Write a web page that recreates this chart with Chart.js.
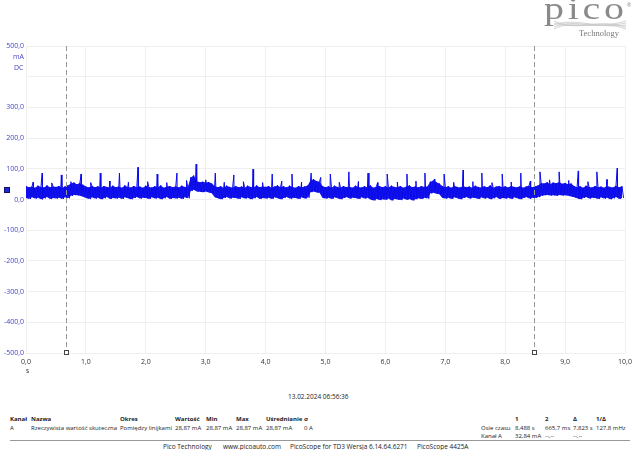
<!DOCTYPE html>
<html>
<head>
<meta charset="utf-8">
<script src="https://cdn.jsdelivr.net/npm/chart.js@4"></script>
<style>
  body { margin: 0; background: #fff; font-family: "Open Sans", "Noto Sans", sans-serif; }
  #wrap { position: relative; width: 640px; height: 450px; overflow: hidden; }
  #scope { position: absolute; left: 0; top: 0; }
  .t { position: absolute; font-size: 6px; color: #222; white-space: nowrap; line-height: 8px; }
  .f { font-size: 6.5px; }
  .b { font-weight: bold; }
  .blue { color: #4646c8; font-size: 7px; }
  #logo { position: absolute; left: 544px; top: -10px; font-family: "Liberation Serif", "DejaVu Serif", serif; font-size: 32px; color: #8a8a8a; letter-spacing: 3px; transform: scaleX(1.25); transform-origin: left top; }
  #reg { position: absolute; left: 627px; top: 2px; font-size: 5px; color: #8a8a8a; }
  #tech { position: absolute; left: 579px; top: 28px; font-family: "Liberation Serif", "DejaVu Serif", serif; font-size: 8.5px; color: #777; }
  #rule { position: absolute; left: 10px; top: 440px; width: 620px; height: 1px; background: #999; }
</style>
</head>
<body>
<div id="wrap">
  <canvas id="scope" width="640" height="380"></canvas>

  <div id="logo">pico</div>
  <div id="reg">®</div>
  <svg style="position:absolute;left:552px;top:19px" width="76" height="12">
    <path d="M2 10 C20 0, 40 12, 74 2" stroke="#c8c8c8" fill="none" stroke-width="0.8"/>
    <path d="M2 8 C22 -1, 42 11, 74 4" stroke="#c8c8c8" fill="none" stroke-width="0.8"/>
    <path d="M2 6 C24 -2, 44 10, 74 6" stroke="#c8c8c8" fill="none" stroke-width="0.8"/>
    <path d="M2 4 C26 12, 46 -1, 74 8" stroke="#c8c8c8" fill="none" stroke-width="0.8"/>
    <path d="M2 2 C28 13, 48 0, 74 10" stroke="#c8c8c8" fill="none" stroke-width="0.8"/>
  </svg>
  <div id="tech">Technology</div>

  <div class="t blue" style="left:13px;top:53px">mA</div>
  <div class="t blue" style="left:14px;top:64px">DC</div>
  <div class="t f" style="left:26px;top:367px">s</div>

  <div class="t f" style="left:288px;top:393px">13.02.2024 06:56:36</div>

  <div class="t b" style="left:10px;top:415px">Kanał</div>
  <div class="t b" style="left:31px;top:415px">Nazwa</div>
  <div class="t b" style="left:120px;top:415px">Okres</div>
  <div class="t b" style="left:175px;top:415px">Wartość</div>
  <div class="t b" style="left:206px;top:415px">Min</div>
  <div class="t b" style="left:236px;top:415px">Max</div>
  <div class="t b" style="left:266px;top:415px">Uśrednianie</div>
  <div class="t b" style="left:304px;top:415px">σ</div>
  <div class="t" style="left:10px;top:424px">A</div>
  <div class="t" style="left:31px;top:424px">Rzeczywista wartość skuteczna</div>
  <div class="t" style="left:120px;top:424px">Pomiędzy linijkami</div>
  <div class="t" style="left:175px;top:424px">28,87 mA</div>
  <div class="t" style="left:206px;top:424px">28,87 mA</div>
  <div class="t" style="left:236px;top:424px">28,87 mA</div>
  <div class="t" style="left:266px;top:424px">28,87 mA</div>
  <div class="t" style="left:304px;top:424px">0 A</div>

  <div class="t b" style="left:515px;top:415px">1</div>
  <div class="t b" style="left:545px;top:415px">2</div>
  <div class="t b" style="left:573px;top:415px">Δ</div>
  <div class="t b" style="left:596px;top:415px">1/Δ</div>
  <div class="t" style="left:481px;top:424px">Osie czasu</div>
  <div class="t" style="left:515px;top:424px">8,488 s</div>
  <div class="t" style="left:545px;top:424px">665,7 ms</div>
  <div class="t" style="left:573px;top:424px">7,823 s</div>
  <div class="t" style="left:596px;top:424px">127,8 mHz</div>
  <div class="t" style="left:481px;top:432px">Kanał A</div>
  <div class="t" style="left:515px;top:432px">32,84 mA</div>
  <div class="t" style="left:545px;top:432px">--,--</div>
  <div class="t" style="left:573px;top:432px">--,--</div>

  <div id="rule"></div>
  <div class="t f" style="left:163px;top:443px">Pico Technology</div>
  <div class="t f" style="left:223px;top:443px">www.picoauto.com</div>
  <div class="t f" style="left:290px;top:443px">PicoScope for TD3 Wersja 6.14.64.6271</div>
  <div class="t f" style="left:417px;top:443px">PicoScope 4425A</div>
</div>

<script>
const binWidth = 0.05;
const bandTop = [
  44, 40, 42, 38, 45, 41, 39, 46, 40, 43,
  41, 44, 38, 42, 46, 52, 55, 50, 54, 48,
  42, 39, 45, 40, 43, 38, 44, 41, 39, 45,
  40, 43, 38, 46, 41, 39, 44, 40, 42, 38,
  45, 41, 39, 43, 40, 46, 38, 42, 44, 40,
  43, 39, 45, 41, 40, 72, 78, 60, 56, 58,
  55, 57, 52, 44, 40, 43, 38, 45, 41, 39,
  44, 40, 42, 38, 45, 41, 39, 46, 40, 43,
  41, 44, 38, 42, 46, 40, 43, 39, 45, 41,
  38, 44, 40, 42, 45, 62, 66, 60, 58, 44,
  40, 43, 38, 45, 41, 39, 44, 40, 42, 38,
  45, 41, 39, 43, 40, 46, 38, 42, 44, 40,
  43, 39, 45, 41, 40, 44, 38, 42, 46, 40,
  43, 39, 44, 41, 42, 58, 62, 56, 52, 44,
  40, 43, 38, 45, 41, 39, 44, 40, 42, 38,
  45, 41, 39, 43, 40, 46, 38, 42, 44, 40,
  43, 39, 45, 41, 40, 44, 38, 42, 46, 40,
  43, 46, 54, 52, 56, 50, 55, 53, 57, 51,
  54, 50, 52, 44, 40, 43, 38, 45, 41, 39,
  44, 40, 42, 38, 45, 41, 39, 46, 40, 43
];
const bandBottom = [
  5, 2, 7, 3, 6, 1, 4, 8, 2, 5,
  3, 6, 2, 7, 4, 12, 15, 14, 12, 9,
  5, 2, 7, 3, 6, 1, 4, 8, 2, 5,
  3, 6, 2, 7, 4, 1, 5, 8, 3, 6,
  5, 2, 7, 3, 6, 1, 4, 8, 2, 5,
  3, 6, 2, 7, 4, 28, 32, 26, 25, 24,
  26, 23, 20, 7, 4, 1, 5, 8, 3, 6,
  5, 2, 7, 3, 6, 1, 4, 8, 2, 5,
  3, 6, 2, 7, 4, 1, 5, 8, 3, 6,
  5, 2, 7, 3, 6, 24, 26, 23, 22, 5,
  3, 6, 2, 7, 4, 1, 5, 8, 3, 6,
  5, 2, 7, 3, 6, 0, -3, 2, -2, 1,
  -1, 3, -3, 2, 0, -2, 3, -1, 2, -3,
  1, 4, 2, 6, 3, 20, 22, 19, 17, 5,
  3, 6, 2, 7, 4, 1, 5, 8, 3, 6,
  5, 2, 7, 3, 6, 1, 4, 8, 2, 5,
  3, 6, 2, 7, 4, 1, 5, 8, 3, 6,
  5, 8, 12, 14, 15, 13, 14, 12, 15, 13,
  14, 12, 10, 7, 4, 1, 5, 8, 3, 6,
  5, 2, 7, 3, 6, 1, 4, 8, 2, 5
];
// narrow current spikes: time (s) and peak (mA)
const tallSpikeTimes = [0.27, 0.59, 0.92, 1.24, 1.56, 1.87, 2.19, 2.52, 2.84, 3.16, 3.47, 3.79, 4.11, 4.44, 4.76, 5.08,
  5.39, 5.71, 6.03, 6.36, 6.66, 6.98, 7.30, 7.61, 7.95, 8.26, 8.58, 8.90, 9.22, 9.53, 9.87];
const tallSpikeValues = [86, 80, 83, 86, 86, 105, 83, 86, 115, 86, 80, 99, 83, 83, 86, 83,
  90, 86, 83, 83, 86, 83, 96, 86, 83, 86, 90, 90, 93, 90, 102];
const smallSpikeTimes = [0.12, 0.43, 0.75, 1.08, 1.40, 1.71, 2.03, 2.35, 2.68, 3.00, 3.31, 3.63, 3.95, 4.27, 4.60, 4.92,
  5.23, 5.55, 5.87, 6.20, 6.51, 6.82, 7.14, 7.46, 7.78, 8.10, 8.42, 8.74, 9.06, 9.38, 9.70];
const smallSpikeValues = [57, 54, 58, 55, 60, 56, 58, 55, 62, 64, 56, 58, 55, 60, 57, 72,
  56, 58, 55, 57, 60, 66, 56, 58, 55, 57, 60, 64, 62, 58, 65];

const xTicks = [0, 1, 2, 3, 4, 5, 6, 7, 8, 9, 10];
const yTicks = [-500, -400, -300, -200, -100, 0, 100, 200, 300, 400, 500];
const yHiddenLabels = [400];       // slot used by the "mA / DC" unit text
const cursorTimes = [0.6657, 8.488];
const channelMarkerLevel = 30;

// build the trace (zigzag through the envelope, plus the spikes)
let trace = [];
let envTop = [], envBottom = [];
for (let i = 0; i < bandTop.length; i++) {
    const t = i * binWidth;
    trace.push({x: t, y: bandTop[i]});
    trace.push({x: t + binWidth / 2, y: bandBottom[i]});
    envTop.push({x: t, y: bandTop[i]});
    envBottom.push({x: t, y: bandBottom[i]});
}
tallSpikeTimes.forEach((t, i) => trace.push({x: t, y: tallSpikeValues[i]}));
smallSpikeTimes.forEach((t, i) => trace.push({x: t, y: smallSpikeValues[i]}));
trace.sort((a, b) => a.x - b.x);

function comma(v) {
    return v.toFixed(1).replace('.', ',');
}

// cursors + channel marker
const scopeExtras = {
    id: 'scopeExtras',
    afterDatasetsDraw(chart) {
        const ctx = chart.ctx;
        const x = chart.scales.x, y = chart.scales.y;
        const area = chart.chartArea;
        ctx.save();
        ctx.strokeStyle = '#999';
        ctx.lineWidth = 1;
        ctx.setLineDash([5, 3]);
        cursorTimes.forEach(t => {
            const px = Math.round(x.getPixelForValue(t)) + 0.5;
            ctx.beginPath();
            ctx.moveTo(px, area.top);
            ctx.lineTo(px, area.bottom - 4);
            ctx.stroke();
        });
        ctx.setLineDash([]);
        ctx.strokeStyle = '#444';
        ctx.fillStyle = '#fff';
        cursorTimes.forEach(t => {
            const px = Math.round(x.getPixelForValue(t));
            ctx.fillRect(px - 2, area.bottom - 3, 5, 5);
            ctx.strokeRect(px - 2 + 0.5, area.bottom - 3 + 0.5, 4, 4);
        });
        // channel A marker left of the axis
        const my = Math.round(y.getPixelForValue(channelMarkerLevel));
        ctx.fillStyle = '#1c2ad8';
        ctx.strokeStyle = '#101060';
        ctx.fillRect(4, my - 3, 6, 6);
        ctx.strokeRect(4.5, my - 2.5, 5, 5);
        ctx.restore();
    }
};

const scopeCtx = document.getElementById('scope').getContext('2d');
const scopeChart = new Chart(scopeCtx, {
    type: 'line',
    data: {
        datasets: [{
            label: 'Kanał A',
            data: trace,
            borderColor: '#0a0aee',
            borderWidth: 1,
            pointRadius: 0,
            tension: 0,
            fill: false
        }, {
            label: 'envTop',
            data: envTop,
            borderWidth: 0,
            borderColor: 'rgba(0,0,0,0)',
            backgroundColor: '#1515e8',
            pointRadius: 0,
            tension: 0,
            fill: '+1'
        }, {
            label: 'envBottom',
            data: envBottom,
            borderWidth: 0,
            borderColor: 'rgba(0,0,0,0)',
            pointRadius: 0,
            tension: 0,
            fill: false
        }]
    },
    options: {
        responsive: false,
        animation: false,
        events: [],
        layout: { padding: { top: 46, right: 15, left: 0, bottom: 0 } },
        plugins: { legend: { display: false }, tooltip: { enabled: false } },
        scales: {
            x: {
                type: 'linear',
                min: 0,
                max: 10,
                afterBuildTicks: s => { s.ticks = xTicks.map(v => ({value: v})); },
                afterFit: s => { s.height = 27; },
                ticks: {
                    callback: v => comma(v),
                    color: '#333',
                    font: { family: 'Open Sans', size: 7 },
                    padding: 5,
                    maxRotation: 0,
                    autoSkip: false
                },
                grid: { color: '#efefef', drawTicks: false },
                border: { display: false }
            },
            y: {
                min: -500,
                max: 500,
                afterBuildTicks: s => { s.ticks = yTicks.map(v => ({value: v})); },
                afterFit: s => { s.width = 26; },
                ticks: {
                    callback: v => yHiddenLabels.includes(v) ? '' : comma(v),
                    color: '#4646c8',
                    font: { family: 'Open Sans', size: 7 },
                    padding: 2,
                    autoSkip: false
                },
                grid: { color: '#efefef', drawTicks: false },
                border: { display: false }
            }
        }
    },
    plugins: [scopeExtras]
});
</script>
</body>
</html>
